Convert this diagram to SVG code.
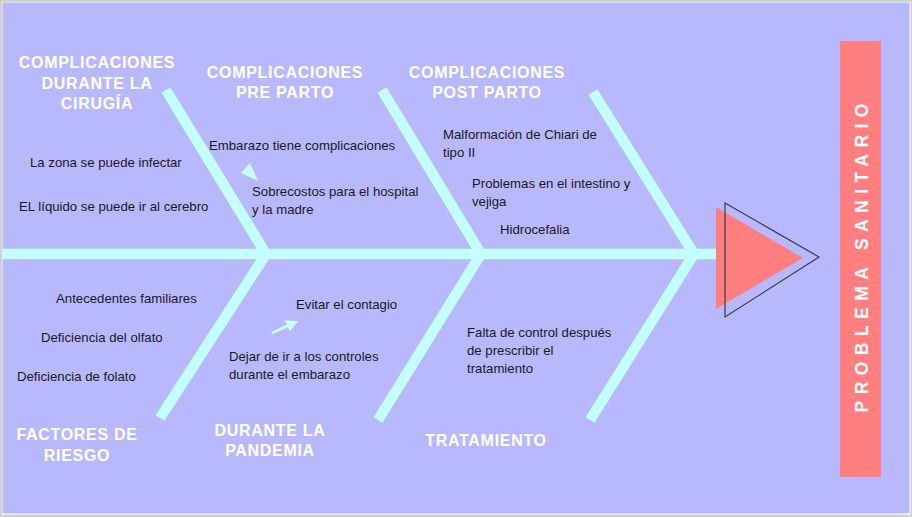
<svg xmlns="http://www.w3.org/2000/svg" width="912" height="517" viewBox="0 0 912 517">
<defs>
<style>
.bone{stroke:#C4FFFF;stroke-width:10.5;fill:none;stroke-linecap:butt;stroke-linejoin:miter}
.hd{font-family:"Liberation Sans",Arial,sans-serif;font-weight:bold;font-size:16px;fill:#FFFFFF;text-anchor:middle;letter-spacing:0.7px}
.tx{font-family:"Liberation Sans",Arial,sans-serif;font-size:13.2px;fill:#1A1A1A}
.ttl{font-family:"Liberation Sans",Arial,sans-serif;font-weight:bold;font-size:17.5px;fill:#FFFFFF}
</style>
<marker id="ah" viewBox="0 0 10 10" refX="8" refY="5" markerWidth="4" markerHeight="4" orient="auto" markerUnits="strokeWidth">
<path d="M0,0 L10,5 L0,10 z" fill="#C4FFFF"/>
</marker>
</defs>
<rect x="0" y="0" width="912" height="517" fill="#D2D2D2"/>
<rect x="2" y="2" width="908.5" height="512.5" fill="#FFFFFF"/>
<rect x="2.5" y="2.5" width="907" height="511" fill="#B8B8FE"/>

<g id="connectors">
<line class="bone" x1="2.5" y1="254" x2="718" y2="254"/>
<polyline class="bone" points="166,90 266,254 160,418"/>
<polyline class="bone" points="382,90 481,254 378,420"/>
<polyline class="bone" points="593,92 694,254 590,420"/>
<polygon points="241,173 250,163 258,181" fill="#C4FFFF"/>
<line x1="272" y1="333" x2="296" y2="322" stroke="#C4FFFF" stroke-width="3" marker-end="url(#ah)"/>
</g>

<g id="head">
<polygon points="716,207 803,258 716,309" fill="#FF7F80"/>
<polygon points="725,203 819,257 725,317" fill="none" stroke="#3A3A4A" stroke-width="1.2"/>
</g>

<g id="problema">
<rect x="840" y="41" width="41" height="436" fill="#FF7F80"/>
<text class="ttl" transform="translate(868,258) rotate(-90)" x="0" y="0" text-anchor="middle" textLength="309" lengthAdjust="spacing">PROBLEMA SANITARIO</text>
</g>

<g id="cat-cirugia">
<text class="hd"><tspan x="97" y="68">COMPLICACIONES</tspan><tspan x="97" y="89">DURANTE LA</tspan><tspan x="97" y="109">CIRUGÍA</tspan></text>
<text class="tx" x="30" y="167">La zona se puede infectar</text>
<text class="tx" x="19" y="211">EL líquido se puede ir al cerebro</text>
</g>

<g id="cat-preparto">
<text class="hd"><tspan x="285" y="78">COMPLICACIONES</tspan><tspan x="285" y="98">PRE PARTO</tspan></text>
<text class="tx" x="209" y="150">Embarazo tiene complicaciones</text>
<text class="tx"><tspan x="252" y="196">Sobrecostos para el hospital</tspan><tspan x="252" y="214">y la madre</tspan></text>
</g>

<g id="cat-postparto">
<text class="hd"><tspan x="487" y="78">COMPLICACIONES</tspan><tspan x="487" y="98">POST PARTO</tspan></text>
<text class="tx"><tspan x="443" y="139">Malformación de Chiari de</tspan><tspan x="443" y="157">tipo II</tspan></text>
<text class="tx"><tspan x="472" y="188">Problemas en el intestino y</tspan><tspan x="472" y="206">vejiga</tspan></text>
<text class="tx" x="500" y="234">Hidrocefalia</text>
</g>

<g id="cat-riesgo">
<text class="hd"><tspan x="77" y="440">FACTORES DE</tspan><tspan x="77" y="461">RIESGO</tspan></text>
<text class="tx" x="56" y="303">Antecedentes familiares</text>
<text class="tx" x="41" y="342">Deficiencia del olfato</text>
<text class="tx" x="17" y="381">Deficiencia de folato</text>
</g>

<g id="cat-pandemia">
<text class="hd"><tspan x="270" y="436">DURANTE LA</tspan><tspan x="270" y="456">PANDEMIA</tspan></text>
<text class="tx" x="296" y="309">Evitar el contagio</text>
<text class="tx"><tspan x="229" y="361">Dejar de ir a los controles</tspan><tspan x="229" y="379">durante el embarazo</tspan></text>
</g>

<g id="cat-tratamiento">
<text class="hd" x="486" y="446">TRATAMIENTO</text>
<text class="tx"><tspan x="467" y="337">Falta de control después</tspan><tspan x="467" y="355">de prescribir el</tspan><tspan x="467" y="373">tratamiento</tspan></text>
</g>
</svg>
